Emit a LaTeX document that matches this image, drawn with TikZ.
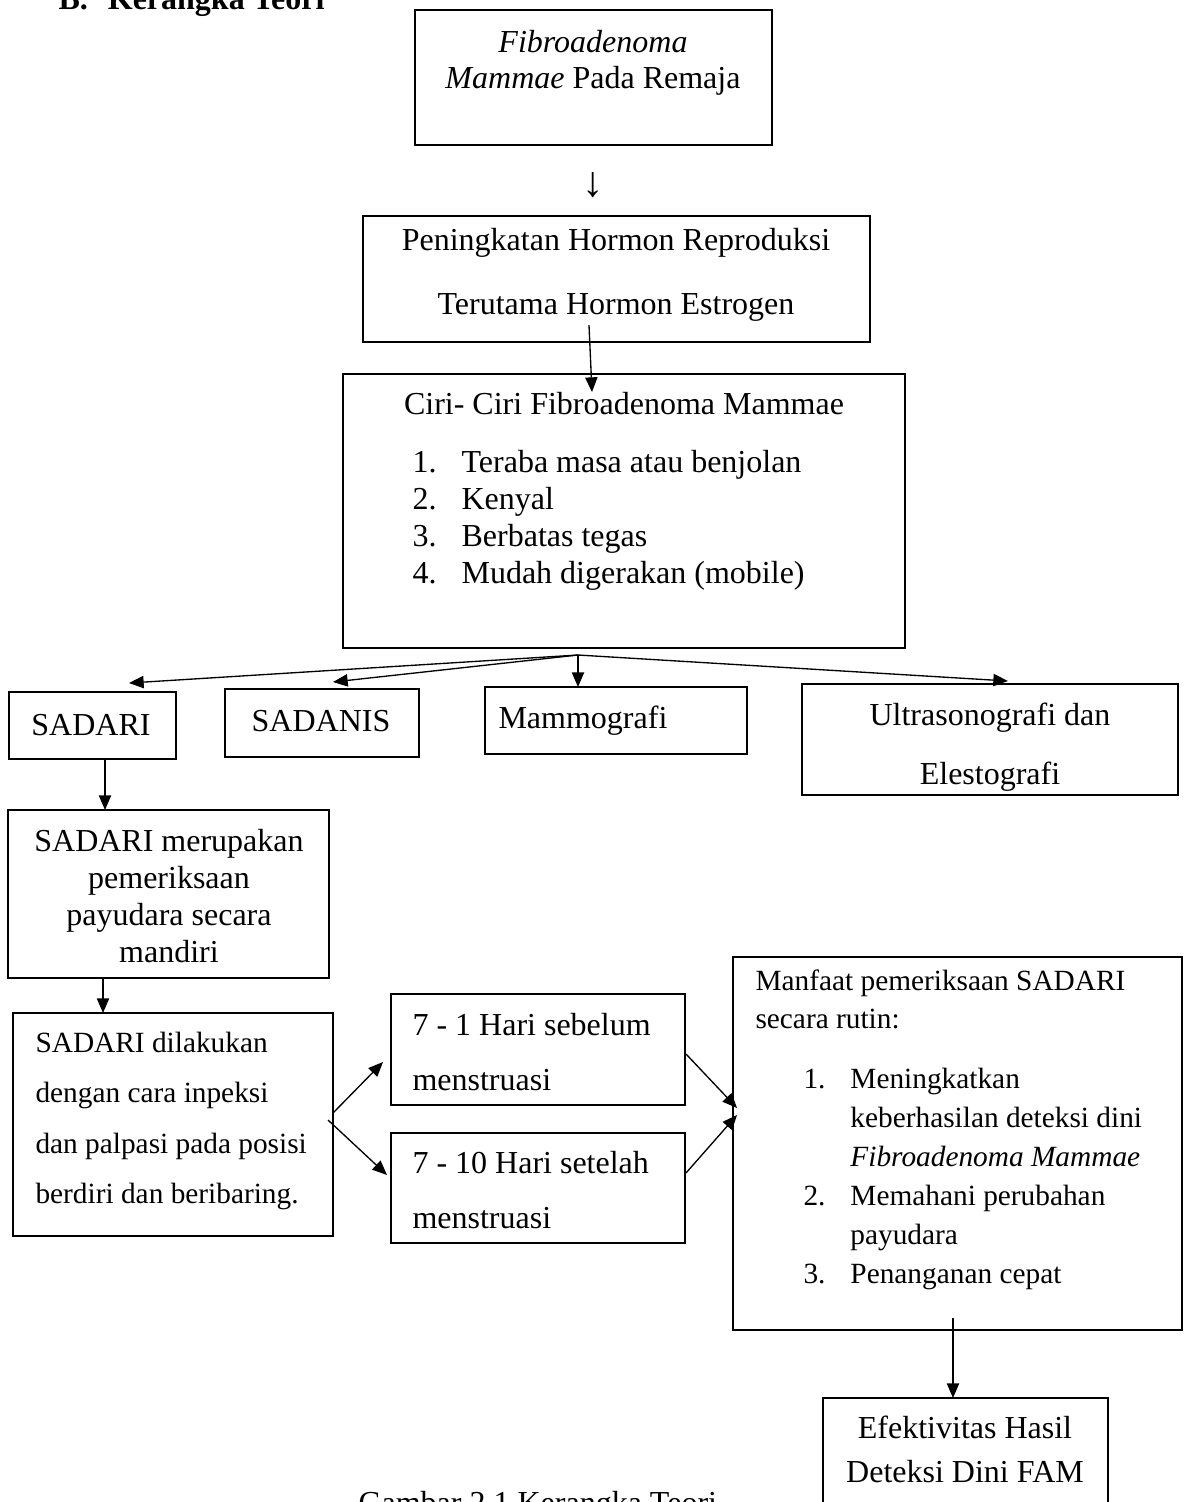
\documentclass[tikz,border=0pt]{standalone}
\usepackage{fontspec}
\setmainfont{Liberation Serif}
\usetikzlibrary{arrows.meta,fit}
\newcommand{\myst}{\rule{0pt}{9pt}}
\begin{document}
\begin{tikzpicture}[x=0.375pt,y=-0.375pt,
  box/.style={draw,line width=0.8pt,inner sep=0pt},
  arr/.style={-{Triangle[length=5.5pt,width=4.6pt]},line width=0.5pt},
  tx/.style={inner sep=0pt,font=\fontsize{12}{14}\selectfont},
  txs/.style={inner sep=0pt,font=\fontsize{11}{13}\selectfont}]
\useasboundingbox (0,0) rectangle (1187,1502);

% boxes
\node[box,fit={(415,10) (772,145)}] (top) {};
\node[box,fit={(363,216) (870,342)}] (pen) {};
\node[box,fit={(343,374) (905,648)}] (ciri) {};
\node[box,fit={(9,692) (176,759)}] (sadari) {};
\node[box,fit={(225,689) (419,757)}] (sadanis) {};
\node[box,fit={(485,687) (747,754)}] (mammo) {};
\node[box,fit={(802,684) (1178,795)}] (ultra) {};
\node[box,fit={(8,810) (329,978)}] (mer) {};
\node[box,fit={(13,1013) (333,1236)}] (dil) {};
\node[box,fit={(391,994) (685,1105)}] (hsb) {};
\node[box,fit={(391,1133) (685,1243)}] (hst) {};
\node[box,fit={(733,957) (1182,1330)}] (manf) {};
\node[box,fit={(823,1398) (1108,1530)}] (efek) {};

% texts
\node[tx,anchor=base west,font=\fontsize{12}{14}\selectfont\bfseries] (title) at (58,9) {B.\hspace{7.5pt}Kerangka Teori};
\node[tx,anchor=north,align=center,font=\fontsize{12}{13.5}\selectfont] (ttop) at (593,28)
  {\myst\textit{Fibroadenoma}\\\textit{Mammae} Pada Remaja};
\node[tx,font=\fontsize{16}{18}\selectfont] (darr) at (593,185) {↓};
\node[tx,anchor=north,align=center,font=\fontsize{12}{24}\selectfont] (tpen) at (616,226)
  {\myst Peningkatan Hormon Reproduksi\\Terutama Hormon Estrogen};
\node[tx,anchor=north] (tciri) at (624,390) {\myst Ciri- Ciri Fibroadenoma Mammae};
\node[tx,anchor=north west,align=left,font=\fontsize{12}{13.9}\selectfont] (tciril) at (412,448)
  {\myst\makebox[18.4pt][l]{1.}Teraba masa atau benjolan\\
   \makebox[18.4pt][l]{2.}Kenyal\\
   \makebox[18.4pt][l]{3.}Berbatas tegas\\
   \makebox[18.4pt][l]{4.}Mudah digerakan (mobile)};
\node[tx,anchor=base] (tsadari) at (91,735) {SADARI};
\node[tx,anchor=base] (tsadanis) at (321,731) {SADANIS};
\node[tx,anchor=base west] (tmammo) at (498,728) {Mammografi};
\node[tx,anchor=north,align=center,font=\fontsize{12}{22.1}\selectfont] (tultra) at (990,701)
  {\myst Ultrasonografi dan\\Elestografi};
\node[tx,anchor=north,align=center,font=\fontsize{12}{13.9}\selectfont] (tmer) at (169,827)
  {\myst SADARI merupakan\\pemeriksaan\\payudara secara\\mandiri};
\node[txs,anchor=north west,align=left,font=\fontsize{11}{18.9}\selectfont] (tdil) at (35,1028)
  {\myst SADARI dilakukan\\dengan cara inpeksi\\dan palpasi pada posisi\\berdiri dan beribaring.};
\node[tx,anchor=north west,align=left,font=\fontsize{12}{20.6}\selectfont] (thsb) at (412,1011)
  {\myst 7 - 1 Hari sebelum\\menstruasi};
\node[tx,anchor=north west,align=left,font=\fontsize{12}{20.6}\selectfont] (thst) at (412,1149)
  {\myst 7 - 10 Hari setelah\\menstruasi};
\node[txs,anchor=north west,align=left,font=\fontsize{11}{14.25}\selectfont] (tmanf) at (755,966)
  {\myst Manfaat pemeriksaan SADARI\\secara rutin:};
\node[txs,anchor=north west,align=left,font=\fontsize{11}{14.6}\selectfont] (tmanfl) at (803,1064)
  {\myst\makebox[17.6pt][l]{1.}Meningkatkan\\
   \hspace*{17.6pt}keberhasilan deteksi dini\\
   \hspace*{17.6pt}\textit{Fibroadenoma Mammae}\\
   \makebox[17.6pt][l]{2.}Memahani perubahan\\
   \hspace*{17.6pt}payudara\\
   \makebox[17.6pt][l]{3.}Penanganan cepat};
\node[tx,anchor=north,align=center,font=\fontsize{12}{16.5}\selectfont] (tefek) at (965,1414)
  {\myst Efektivitas Hasil\\Deteksi Dini FAM};
\node[tx,anchor=base west] (caption) at (358,1513) {Gambar 2.1 Kerangka Teori};

% connector end points
\coordinate (p1) at (589,325);
\coordinate (p2) at (592,392);
\coordinate (fo) at (578,655);
\coordinate (f1) at (129,683);
\coordinate (f2) at (333,682);
\coordinate (f3) at (578,687);
\coordinate (f4) at (1008,681);
\coordinate (s1) at (105,759);
\coordinate (s2) at (105,810);
\coordinate (m1) at (103,978);
\coordinate (m2) at (103,1013);
\coordinate (d1) at (333,1113);
\coordinate (d2) at (383,1062);
\coordinate (d3) at (328,1120);
\coordinate (d4) at (387,1175);
\coordinate (h1) at (686,1054);
\coordinate (h2) at (737,1108);
\coordinate (h3) at (686,1173);
\coordinate (h4) at (737,1115);
\coordinate (e1) at (953,1318);
\coordinate (e2) at (953,1398);

% connectors
\draw[arr] (p1) -- (p2);
\draw[arr] (fo) -- (f1);
\draw[arr] (fo) -- (f2);
\draw[arr] (fo) -- (f3);
\draw[arr] (fo) -- (f4);
\draw[arr] (s1) -- (s2);
\draw[arr] (m1) -- (m2);
\draw[arr] (d1) -- (d2);
\draw[arr] (d3) -- (d4);
\draw[arr] (h1) -- (h2);
\draw[arr] (h3) -- (h4);
\draw[arr] (e1) -- (e2);
\end{tikzpicture}
\end{document}
